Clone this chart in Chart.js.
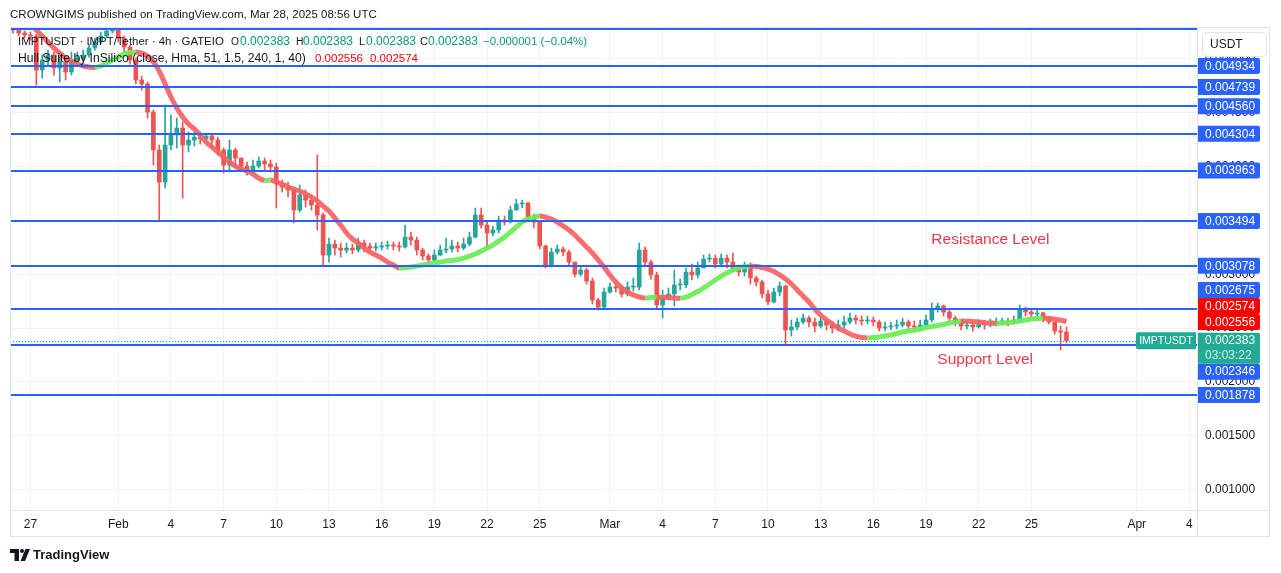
<!DOCTYPE html>
<html><head><meta charset="utf-8">
<script src="https://cdn.jsdelivr.net/npm/chart.js@4.4.1/dist/chart.umd.min.js"></script>
<style>html,body{margin:0;padding:0;background:#fff;overflow:hidden}</style>
</head><body>
<canvas id="c" width="1281" height="573"></canvas>
<script>
// ---------- DATA ----------
const firstBar = -3;            // bar index (8h bars, 0 = 27 Jan 00:00)
const firstOpen = 0.005287;
const closes = [
0.005268,0.005240,0.005222,0.005212,0.004897,0.004989,0.005036,0.004915,0.004971,0.004878,
0.004989,0.005008,0.005036,0.005101,0.005157,0.005212,0.005259,0.005277,0.005194,0.005110,
0.004989,0.004804,0.004767,0.004506,0.004154,0.003856,0.004200,0.004293,0.004358,0.004200,
0.004246,0.004274,0.004256,0.004284,0.004246,0.004154,0.004014,0.004154,0.004079,0.004005,
0.003968,0.004005,0.004051,0.004024,0.003996,0.003838,0.003810,0.003782,0.003596,0.003736,
0.003689,0.003643,0.003550,0.003178,0.003280,0.003243,0.003225,0.003243,0.003225,0.003290,
0.003262,0.003243,0.003253,0.003262,0.003271,0.003262,0.003253,0.003345,0.003318,0.003225,
0.003169,0.003132,0.003178,0.003225,0.003234,0.003262,0.003243,0.003280,0.003345,0.003550,
0.003457,0.003383,0.003411,0.003503,0.003485,0.003596,0.003652,0.003661,0.003522,0.003485,
0.003262,0.003085,0.003206,0.003234,0.003206,0.003113,0.003002,0.003039,0.002937,0.002760,
0.002695,0.002835,0.002881,0.002872,0.002816,0.002881,0.002881,0.003225,0.003113,0.002993,
0.002714,0.002779,0.002816,0.002900,0.002900,0.003020,0.002993,0.003058,0.003141,0.003150,
0.003095,0.003150,0.003113,0.003058,0.003020,0.003076,0.002965,0.002928,0.002816,0.002742,
0.002835,0.002890,0.002482,0.002510,0.002556,0.002593,0.002556,0.002519,0.002565,0.002528,
0.002500,0.002528,0.002556,0.002593,0.002575,0.002565,0.002575,0.002556,0.002500,0.002510,
0.002519,0.002528,0.002556,0.002519,0.002510,0.002528,0.002575,0.002677,0.002705,0.002649,
0.002593,0.002556,0.002519,0.002528,0.002510,0.002538,0.002528,0.002547,0.002556,0.002565,
0.002556,0.002575,0.002677,0.002649,0.002630,0.002640,0.002593,0.002556,0.002473,0.002463,
0.002383];
const highs = [
0.005305,0.005277,0.005259,0.005250,0.005231,0.005036,0.005082,0.005064,0.005036,0.005008,
0.005064,0.005064,0.005082,0.005138,0.005194,0.005250,0.005287,0.005305,0.005287,0.005212,
0.005129,0.005008,0.004841,0.004785,0.004525,0.004200,0.004572,0.004479,0.004451,0.004414,
0.004321,0.004330,0.004321,0.004311,0.004302,0.004274,0.004172,0.004246,0.004172,0.004079,
0.004042,0.004061,0.004089,0.004079,0.004061,0.004033,0.003875,0.003856,0.003782,0.003828,
0.003782,0.003736,0.004107,0.003568,0.003336,0.003318,0.003290,0.003290,0.003280,0.003336,
0.003318,0.003290,0.003290,0.003299,0.003308,0.003299,0.003299,0.003457,0.003392,0.003345,
0.003243,0.003188,0.003225,0.003271,0.003336,0.003318,0.003299,0.003336,0.003392,0.003615,
0.003615,0.003485,0.003448,0.003541,0.003541,0.003633,0.003698,0.003689,0.003671,0.003559,
0.003485,0.003271,0.003243,0.003271,0.003253,0.003225,0.003113,0.003076,0.003058,0.002965,
0.002779,0.002872,0.002918,0.002918,0.002900,0.002928,0.002965,0.003290,0.003253,0.003132,
0.003020,0.002853,0.002872,0.003039,0.002955,0.003058,0.003095,0.003113,0.003178,0.003188,
0.003178,0.003188,0.003178,0.003197,0.003085,0.003113,0.003104,0.002983,0.002946,0.002853,
0.002872,0.002928,0.002900,0.002575,0.002593,0.002630,0.002612,0.002593,0.002612,0.002575,
0.002556,0.002575,0.002612,0.002640,0.002621,0.002612,0.002612,0.002603,0.002575,0.002556,
0.002556,0.002575,0.002593,0.002575,0.002565,0.002575,0.002621,0.002733,0.002733,0.002714,
0.002668,0.002612,0.002575,0.002565,0.002556,0.002575,0.002565,0.002584,0.002593,0.002593,
0.002593,0.002612,0.002714,0.002695,0.002668,0.002668,0.002649,0.002603,0.002547,0.002519,
0.002510];
const lows = [
0.005240,0.005212,0.005194,0.005175,0.004757,0.004822,0.004943,0.004850,0.004785,0.004804,
0.004850,0.004943,0.004989,0.005017,0.005082,0.005138,0.005194,0.005240,0.005157,0.005064,
0.004952,0.004767,0.004711,0.004451,0.004014,0.003503,0.003801,0.004154,0.004172,0.003708,
0.004135,0.004191,0.004209,0.004228,0.004172,0.004107,0.003940,0.003949,0.003986,0.003958,
0.003921,0.003931,0.003986,0.003968,0.003949,0.003615,0.003763,0.003717,0.003476,0.003578,
0.003624,0.003596,0.003411,0.003067,0.003113,0.003178,0.003160,0.003197,0.003188,0.003206,
0.003206,0.003206,0.003215,0.003225,0.003234,0.003225,0.003215,0.003243,0.003271,0.003178,
0.003132,0.003076,0.003113,0.003169,0.003197,0.003206,0.003206,0.003225,0.003262,0.003336,
0.003429,0.003253,0.003355,0.003383,0.003457,0.003476,0.003596,0.003615,0.003485,0.003429,
0.003234,0.003058,0.003067,0.003188,0.003169,0.003076,0.002974,0.002983,0.002909,0.002723,
0.002668,0.002677,0.002825,0.002835,0.002788,0.002798,0.002844,0.002853,0.003085,0.002955,
0.002677,0.002593,0.002760,0.002705,0.002853,0.002872,0.002946,0.002965,0.003076,0.003113,
0.003058,0.003076,0.003058,0.003020,0.002983,0.002983,0.002909,0.002890,0.002779,0.002714,
0.002733,0.002798,0.002343,0.002426,0.002482,0.002538,0.002510,0.002463,0.002500,0.002482,
0.002454,0.002473,0.002500,0.002538,0.002538,0.002528,0.002538,0.002519,0.002473,0.002473,
0.002482,0.002491,0.002510,0.002482,0.002473,0.002482,0.002519,0.002556,0.002649,0.002612,
0.002556,0.002519,0.002482,0.002491,0.002473,0.002500,0.002491,0.002510,0.002519,0.002528,
0.002519,0.002538,0.002556,0.002612,0.002603,0.002612,0.002556,0.002538,0.002445,0.002296,
0.002361];
const hull = [
0.005500,0.005435,0.005370,0.005314,0.005268,0.005212,0.005157,0.005101,0.005054,0.005008,
0.004980,0.004952,0.004934,0.004924,0.004920,0.004934,0.004962,0.004989,0.005017,0.005045,
0.005059,0.005064,0.005054,0.005027,0.004971,0.004887,0.004767,0.004646,0.004544,0.004460,
0.004395,0.004349,0.004293,0.004228,0.004181,0.004135,0.004089,0.004042,0.004005,0.003977,
0.003958,0.003931,0.003893,0.003870,0.003875,0.003856,0.003838,0.003810,0.003791,0.003773,
0.003745,0.003717,0.003680,0.003633,0.003587,0.003522,0.003457,0.003383,0.003327,0.003290,
0.003243,0.003206,0.003178,0.003150,0.003113,0.003085,0.003058,0.003062,0.003067,0.003076,
0.003085,0.003095,0.003104,0.003113,0.003123,0.003127,0.003136,0.003150,0.003169,0.003188,
0.003215,0.003243,0.003271,0.003308,0.003345,0.003392,0.003438,0.003485,0.003513,0.003531,
0.003541,0.003531,0.003513,0.003485,0.003448,0.003411,0.003364,0.003308,0.003253,0.003197,
0.003132,0.003067,0.002993,0.002928,0.002872,0.002835,0.002807,0.002788,0.002779,0.002784,
0.002788,0.002785,0.002783,0.002779,0.002777,0.002788,0.002811,0.002839,0.002872,0.002909,
0.002946,0.002983,0.003011,0.003039,0.003058,0.003071,0.003076,0.003071,0.003062,0.003048,
0.003025,0.002993,0.002955,0.002909,0.002853,0.002798,0.002742,0.002677,0.002621,0.002575,
0.002538,0.002500,0.002473,0.002445,0.002426,0.002412,0.002408,0.002412,0.002417,0.002426,
0.002435,0.002449,0.002463,0.002473,0.002482,0.002491,0.002505,0.002514,0.002524,0.002533,
0.002547,0.002556,0.002565,0.002563,0.002561,0.002556,0.002551,0.002547,0.002545,0.002547,
0.002551,0.002556,0.002565,0.002575,0.002584,0.002589,0.002591,0.002589,0.002582,0.002573,
0.002561];
const tickBars   = [0,15,24,33,42,51,60,69,78,87,99,108,117,126,135,144,153,162,171,189,198];
const tickLabels = ['27','Feb','4','7','10','13','16','19','22','25','Mar','4','7','10','13','16','19','22','25','Apr','4'];
const yTicks = [0.001,0.0015,0.002,0.0025,0.003,0.0035,0.004,0.0045,0.005];
const topLevel = 0.005275;
const levels = [0.004934,0.004739,0.004560,0.004304,0.003963,0.003494,0.003078,0.002675,0.002346,0.001878];
const hullValues = [0.002556,0.002574];
const lastPrice = 0.002383;
const countdown = '03:03:22';
const symbol = 'IMPTUSDT';
const annotations = [
  {text:'Resistance Level', bar:164, price:0.003318},
  {text:'Support Level', bar:163.1, price:0.002203}
];
const headerText = 'CROWNGIMS published on TradingView.com, Mar 28, 2025 08:56 UTC';

// ---------- BUILD ----------
const FONT = '"Liberation Sans", Arial, sans-serif';
Chart.defaults.font.family = FONT;
const xs = closes.map((_, k) => firstBar + k);
const opens = closes.map((c, k) => k === 0 ? firstOpen : closes[k - 1]);
const UP = '#26a69a', DN = '#ef5350';
const colors = closes.map((c, k) => c >= opens[k] ? UP : DN);
const HULL_UP = 'rgba(104,236,84,0.92)', HULL_DN = 'rgba(247,98,98,0.92)';

function rr(ctx, x, y, w, h, r) { ctx.beginPath(); ctx.roundRect(x, y, w, h, r); }
// draw text fitted to a target width
function fitText(ctx, t, x, y, w) {
  ctx.font = '12px ' + FONT;
  const m = ctx.measureText(t).width;
  const s = Math.min(12.5, 12 * w / m);
  ctx.font = s.toFixed(2) + 'px ' + FONT;
  ctx.fillText(t, x, y);
}

const overlay = {
  id: 'overlay',
  afterDatasetsDraw(chart) {
    const {ctx, chartArea: a, scales: {x, y}} = chart;
    ctx.save();
    ctx.beginPath(); ctx.rect(a.left, a.top, a.right - a.left, a.bottom - a.top); ctx.clip();
    ctx.strokeStyle = '#2962ff'; ctx.lineWidth = 2;
    [topLevel, ...levels].forEach(v => {
      const py = Math.round(y.getPixelForValue(v));
      ctx.beginPath(); ctx.moveTo(a.left, py); ctx.lineTo(a.right, py); ctx.stroke();
    });
    const pp = Math.round(y.getPixelForValue(lastPrice)) + 0.5;
    ctx.setLineDash([1, 2]); ctx.strokeStyle = '#089981'; ctx.lineWidth = 1;
    ctx.beginPath(); ctx.moveTo(a.left, pp); ctx.lineTo(a.right, pp); ctx.stroke();
    ctx.setLineDash([]);
    ctx.fillStyle = '#f23645'; ctx.font = '15.5px ' + FONT;
    ctx.textAlign = 'center'; ctx.textBaseline = 'middle';
    annotations.forEach(an => ctx.fillText(an.text, x.getPixelForValue(an.bar), y.getPixelForValue(an.price)));
    ctx.restore();
  },
  afterDraw(chart) {
    const {ctx, chartArea: a, scales: {y}} = chart;
    ctx.save();
    // frame
    ctx.strokeStyle = '#e0e3eb'; ctx.lineWidth = 1;
    ctx.strokeRect(10.5, 27.5, 1259, 509);
    ctx.beginPath(); ctx.moveTo(a.right + 0.5, 27); ctx.lineTo(a.right + 0.5, 537);
    ctx.moveTo(10, a.bottom + 0.5); ctx.lineTo(1270, a.bottom + 0.5); ctx.stroke();
    // USDT box
    ctx.fillStyle = '#fff'; rr(ctx, 1202.5, 32.5, 64, 24, 4); ctx.fill(); ctx.stroke();
    ctx.fillStyle = '#131722'; ctx.font = '12px ' + FONT; ctx.textAlign = 'left'; ctx.textBaseline = 'middle';
    ctx.fillText('USDT', 1210, 45);
    // price boxes
    const bx = a.right + 1, bw = 62, bh = 16;
    const box = (cy, bg, t) => {
      ctx.fillStyle = bg; rr(ctx, bx, cy - bh / 2, bw, bh, [0, 2, 2, 0]); ctx.fill();
      ctx.fillStyle = '#fff'; ctx.font = '12px ' + FONT; ctx.textAlign = 'left'; ctx.textBaseline = 'middle';
      ctx.fillText(t, 1205, cy + 0.5);
    };
    const py = y.getPixelForValue(lastPrice);
    const curTop = py - 8, curBot = py + 23;
    const items = [...hullValues.map(v => ({v, c: '#ff0000'})), ...levels.map(v => ({v, c: '#2962ff'}))];
    let edge = curTop;
    items.filter(it => it.v > lastPrice).sort((p, q) => p.v - q.v).forEach(it => {
      const c = Math.min(y.getPixelForValue(it.v), edge - bh / 2); box(c, it.c, it.v.toFixed(6)); edge = c - bh / 2;
    });
    edge = curBot;
    items.filter(it => it.v < lastPrice).sort((p, q) => q.v - p.v).forEach(it => {
      const c = Math.max(y.getPixelForValue(it.v), edge + bh / 2); box(c, it.c, it.v.toFixed(6)); edge = c + bh / 2;
    });
    // current price box
    ctx.fillStyle = '#22ab94'; rr(ctx, bx, curTop, bw, curBot - curTop, [0, 2, 2, 0]); ctx.fill();
    ctx.fillStyle = '#fff'; ctx.font = '12px ' + FONT; ctx.textAlign = 'left';
    ctx.fillText(lastPrice.toFixed(6), 1205, py + 0.5);
    ctx.fillStyle = 'rgba(255,255,255,0.78)'; ctx.fillText(countdown, 1205, py + 15.5);
    // symbol tag
    ctx.fillStyle = '#22ab94'; rr(ctx, 1136, py - 8.5, 60, 17, [2, 0, 0, 2]); ctx.fill();
    ctx.fillStyle = '#fff'; ctx.font = '10.5px ' + FONT; ctx.textAlign = 'center';
    ctx.fillText(symbol, 1166, py + 0.5);
    // header
    ctx.textAlign = 'left'; ctx.fillStyle = '#131722';
    fitText(ctx, headerText, 10, 15, 367);
    // legend
    const DK = '#131722', TL = '#089981', RD = '#ff0000';
    const row1 = [[18, 'IMPTUSDT · IMPT/Tether · 4h · GATEIO', DK, 206], [231, 'O', DK, 8], [240, lastPrice.toFixed(6), TL, 50],
      [296, 'H', DK, 7.5], [303, lastPrice.toFixed(6), TL, 50], [359, 'L', DK, 6], [366, lastPrice.toFixed(6), TL, 50],
      [420, 'C', DK, 8], [428, lastPrice.toFixed(6), TL, 50], [483, '\u22120.000001 (\u22120.04%)', TL, 104]];
    const row2 = [[18, 'Hull Suite by InSilico (close, Hma, 51, 1.5, 240, 1, 40)', DK, 288],
      [315, hullValues[0].toFixed(6), RD, 48], [370, hullValues[1].toFixed(6), RD, 48]];
    row1.forEach(([px, t, c, w]) => { ctx.fillStyle = c; fitText(ctx, t, px, 42, w); });
    row2.forEach(([px, t, c, w]) => { ctx.fillStyle = c; fitText(ctx, t, px, 59, w); });
    // TradingView logo
    ctx.fillStyle = '#131722';
    ctx.fillRect(10, 549, 9, 4); ctx.fillRect(14.5, 549, 4.5, 12);
    ctx.beginPath(); ctx.arc(22, 551, 2, 0, Math.PI * 2); ctx.fill();
    ctx.beginPath(); ctx.moveTo(25.5, 549); ctx.lineTo(30, 549); ctx.lineTo(25, 561); ctx.lineTo(20.5, 561); ctx.closePath(); ctx.fill();
    ctx.font = '600 13px ' + FONT; ctx.fillText('TradingView', 33, 555);
    ctx.restore();
  }
};

new Chart(document.getElementById('c'), {
  type: 'bar',
  data: {
    datasets: [
      { type: 'line', label: 'Hull', data: hull.map((v, k) => ({x: xs[k], y: v})), order: 0,
        borderWidth: 5, pointRadius: 0, tension: 0.4, clip: 0, borderColor: HULL_DN,
        segment: { borderColor: c => c.p1.parsed.y > c.p0.parsed.y ? HULL_UP : HULL_DN } },
      { label: 'body', data: xs.map((x, k) => ({x, y: [opens[k], closes[k]]})), backgroundColor: colors,
        barThickness: 4, minBarLength: 1, grouped: false, order: 1 },
      { label: 'wick', data: xs.map((x, k) => ({x, y: [lows[k], highs[k]]})), backgroundColor: colors,
        barThickness: 1, grouped: false, order: 2 }
    ]
  },
  options: {
    responsive: false, animation: false, devicePixelRatio: 1,
    layout: { padding: { left: 10, right: 11, top: 28, bottom: 36 } },
    plugins: { legend: { display: false }, tooltip: { enabled: false } },
    scales: {
      x: { type: 'linear', min: -3.5, max: 199.3, offset: false,
        afterBuildTicks: s => { s.ticks = tickBars.map(v => ({value: v})); },
        afterFit: s => { s.height = 27; },
        ticks: { autoSkip: false, maxRotation: 0, color: '#131722', font: {size: 12}, padding: 7,
          callback: v => tickLabels[tickBars.indexOf(v)] },
        grid: { color: '#f0f3fa', drawTicks: false, offset: false }, border: { display: false } },
      y: { type: 'linear', position: 'right', min: 0.00081, max: 0.005287, beginAtZero: false,
        afterBuildTicks: s => { s.ticks = yTicks.map(v => ({value: v})); },
        afterFit: s => { s.width = 73; },
        ticks: { color: '#131722', font: {size: 12}, padding: 8, callback: v => v.toFixed(6) },
        grid: { color: '#f0f3fa', drawTicks: false }, border: { display: false } }
    }
  },
  plugins: [overlay]
});
</script>
</body></html>
